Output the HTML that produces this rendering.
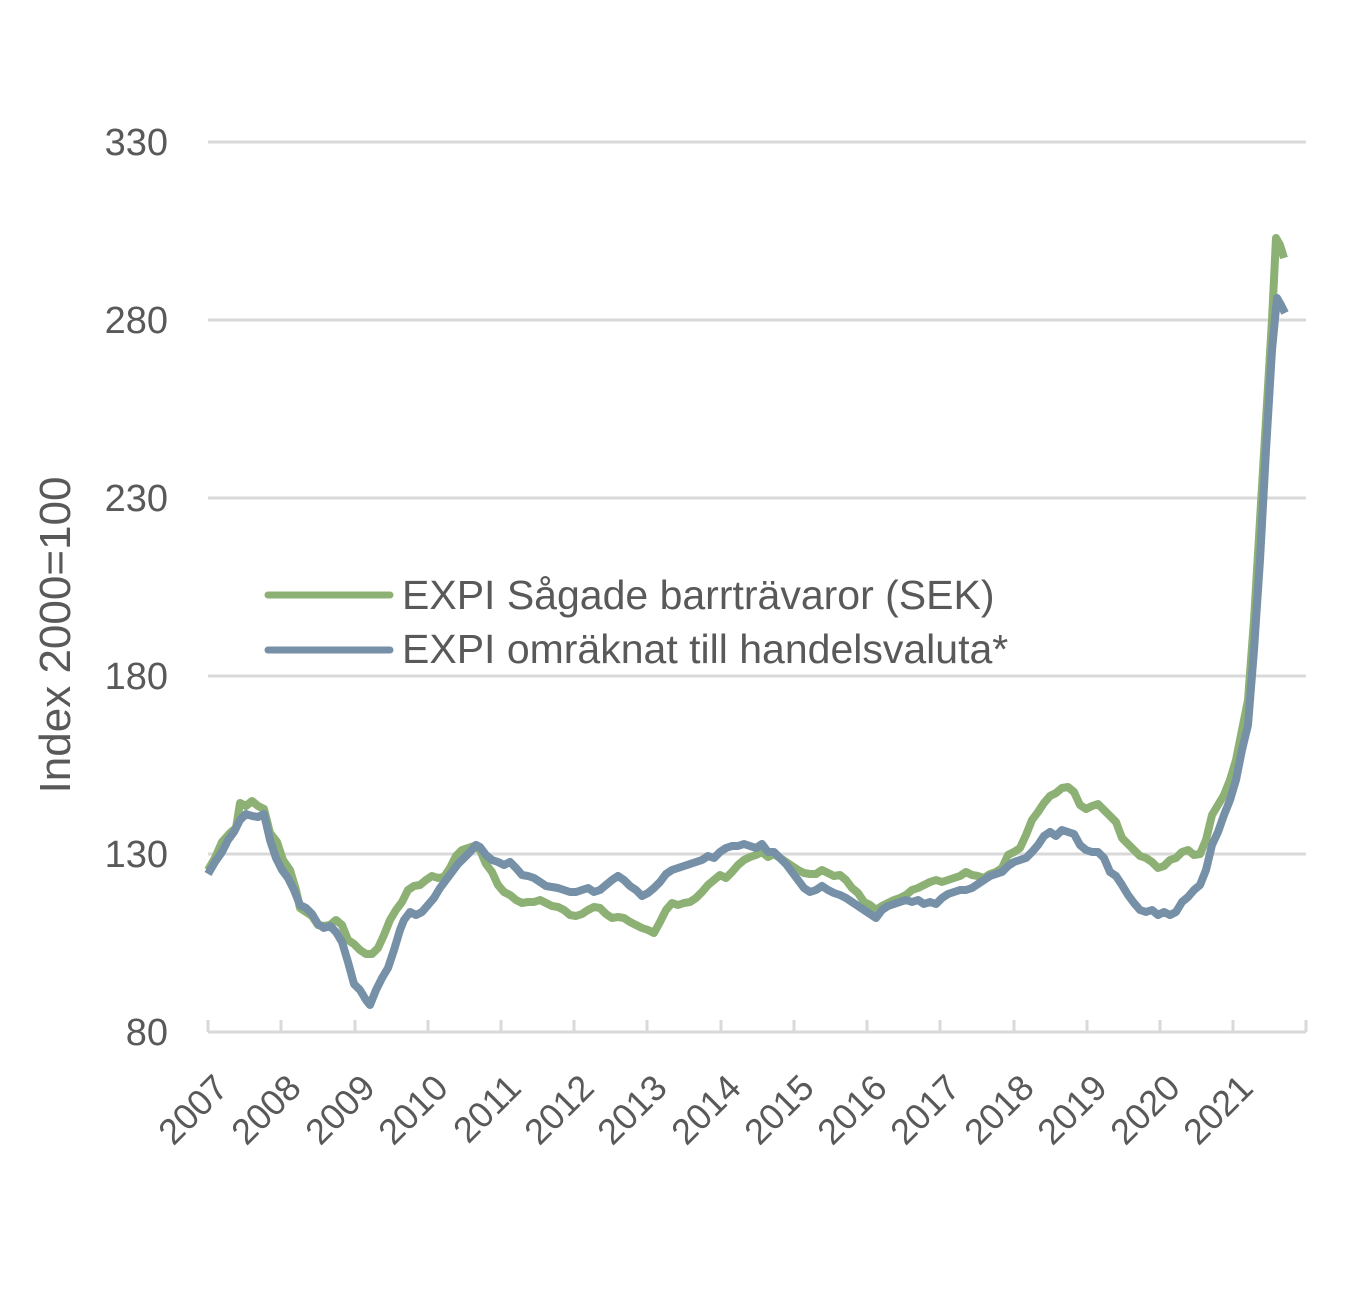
<!DOCTYPE html>
<html><head><meta charset="utf-8"><style>body{margin:0;background:#fff}</style></head><body>
<svg width="1360" height="1300" xmlns="http://www.w3.org/2000/svg" font-family="Liberation Sans, sans-serif" fill="#595959">
<g stroke="#d9d9d9" stroke-width="3">
<line x1="208" y1="142" x2="1306" y2="142"/><line x1="208" y1="320" x2="1306" y2="320"/>
<line x1="208" y1="498" x2="1306" y2="498"/><line x1="208" y1="676" x2="1306" y2="676"/>
<line x1="208" y1="854" x2="1306" y2="854"/><line x1="208" y1="1032" x2="1306" y2="1032"/>
<line x1="208" y1="1032" x2="208" y2="1020"/><line x1="281" y1="1032" x2="281" y2="1020"/><line x1="355" y1="1032" x2="355" y2="1020"/><line x1="428" y1="1032" x2="428" y2="1020"/><line x1="501" y1="1032" x2="501" y2="1020"/><line x1="574" y1="1032" x2="574" y2="1020"/><line x1="647" y1="1032" x2="647" y2="1020"/><line x1="721" y1="1032" x2="721" y2="1020"/><line x1="794" y1="1032" x2="794" y2="1020"/><line x1="867" y1="1032" x2="867" y2="1020"/><line x1="940" y1="1032" x2="940" y2="1020"/><line x1="1014" y1="1032" x2="1014" y2="1020"/><line x1="1087" y1="1032" x2="1087" y2="1020"/><line x1="1160" y1="1032" x2="1160" y2="1020"/><line x1="1233" y1="1032" x2="1233" y2="1020"/><line x1="1306" y1="1032" x2="1306" y2="1020"/>
</g>
<g font-size="38" text-anchor="end">
<text x="168" y="155">330</text><text x="168" y="333">280</text><text x="168" y="511">230</text><text x="168" y="689">180</text><text x="168" y="867">130</text><text x="168" y="1045">80</text>
</g>
<text transform="translate(70,635) rotate(-90)" font-size="44" text-anchor="middle">Index 2000=100</text>
<g font-size="36" text-anchor="end">
<text transform="translate(230,1090) rotate(-45)">2007</text><text transform="translate(303,1090) rotate(-45)">2008</text><text transform="translate(377,1090) rotate(-45)">2009</text><text transform="translate(450,1090) rotate(-45)">2010</text><text transform="translate(523,1090) rotate(-45)">2011</text><text transform="translate(596,1090) rotate(-45)">2012</text><text transform="translate(669,1090) rotate(-45)">2013</text><text transform="translate(743,1090) rotate(-45)">2014</text><text transform="translate(816,1090) rotate(-45)">2015</text><text transform="translate(889,1090) rotate(-45)">2016</text><text transform="translate(962,1090) rotate(-45)">2017</text><text transform="translate(1036,1090) rotate(-45)">2018</text><text transform="translate(1109,1090) rotate(-45)">2019</text><text transform="translate(1182,1090) rotate(-45)">2020</text><text transform="translate(1255,1090) rotate(-45)">2021</text>
</g>
<polyline fill="none" stroke="#8db174" stroke-width="8" stroke-linejoin="round" points="208,870 215,858 222,842 230,833 236,828 240,803 246,806 252,801 258,806 264,809 270,833 277,842 283,860 290,870 296,890 300,908 306,912 312,916 318,925 324,926 330,925 336,920 342,925 348,940 354,944 360,950 366,954 372,954 378,948 384,935 390,920 396,910 402,902 408,890 414,886 420,885 426,880 432,876 438,878 444,877 450,868 456,856 462,850 468,848 474,846 480,850 486,864 492,872 498,885 504,892 510,895 516,900 522,903 528,902 534,902 540,900 546,903 552,906 558,907 564,910 570,915 576,916 582,914 588,910 594,907 600,908 606,914 612,918 618,917 624,918 630,922 636,925 642,928 648,930 654,933 660,922 666,910 672,903 678,905 684,903 690,902 696,898 702,892 708,885 714,880 720,875 726,878 732,872 738,865 744,860 750,857 756,855 762,852 768,857 774,854 780,858 786,862 792,866 798,870 804,873 810,874 816,874 822,870 828,873 834,876 840,875 846,880 852,888 858,893 864,902 870,905 876,910 882,906 888,903 894,900 900,898 906,895 912,890 918,888 924,885 930,882 936,880 942,882 948,880 954,878 960,876 966,872 972,875 978,876 984,878 990,874 996,872 1002,868 1008,855 1014,852 1020,848 1026,835 1032,820 1038,812 1044,803 1050,796 1056,793 1062,788 1068,787 1074,792 1080,805 1086,809 1092,806 1098,804 1104,810 1110,816 1116,822 1122,838 1128,844 1134,850 1140,856 1146,858 1152,862 1158,868 1164,866 1170,860 1176,858 1182,852 1188,850 1194,855 1200,854 1206,840 1212,815 1218,805 1224,795 1230,780 1236,760 1242,730 1248,700 1254,620 1260,520 1266,420 1272,320 1276,238 1280,245 1284,258"/>
<polyline fill="none" stroke="#7590a7" stroke-width="8" stroke-linejoin="round" points="208,874 215,862 222,852 228,840 234,832 240,820 246,814 252,816 258,817 264,814 270,840 276,858 282,870 288,878 294,890 300,905 306,908 312,914 318,924 324,928 330,926 336,932 342,942 348,962 354,984 360,990 366,1000 370,1005 376,990 382,978 388,968 394,950 400,930 404,920 410,912 416,915 422,912 428,905 434,898 440,888 446,880 452,872 458,864 464,858 470,852 476,845 480,847 486,855 492,860 498,862 504,865 510,862 516,868 522,875 528,876 534,878 540,882 546,886 552,887 558,888 564,890 570,892 576,892 582,890 588,888 594,892 600,890 606,885 612,880 618,876 624,880 630,886 636,890 642,896 648,893 654,888 660,882 666,874 672,870 678,868 684,866 690,864 696,862 702,860 708,856 714,858 720,852 726,848 732,846 738,846 744,844 750,846 756,848 762,844 768,852 774,852 780,858 786,864 792,872 798,880 804,888 810,892 816,890 822,886 828,890 834,893 840,895 846,898 852,902 858,906 864,910 870,914 876,918 882,910 888,906 894,904 900,902 906,900 912,902 918,900 924,904 930,902 936,904 942,898 948,894 954,892 960,890 966,890 972,888 978,884 984,880 990,876 996,874 1002,872 1008,866 1014,862 1020,860 1026,858 1032,852 1038,845 1044,836 1050,832 1056,836 1062,830 1068,832 1074,834 1080,845 1086,850 1092,852 1098,852 1104,858 1110,872 1116,876 1122,885 1128,895 1134,903 1140,910 1146,912 1152,910 1158,915 1164,912 1170,915 1176,912 1182,902 1188,897 1194,890 1200,885 1206,870 1212,845 1218,832 1224,815 1230,800 1236,780 1242,750 1248,725 1254,650 1260,560 1266,450 1272,350 1277,298 1281,305 1285,313"/>
<line x1="268" y1="595" x2="390" y2="595" stroke="#8db174" stroke-width="7" stroke-linecap="round"/>
<line x1="268" y1="650" x2="390" y2="650" stroke="#7590a7" stroke-width="7" stroke-linecap="round"/>
<g font-size="41"><text x="402" y="609">EXPI Sågade barrträvaror (SEK)</text><text x="402" y="663">EXPI omräknat till handelsvaluta*</text></g>
</svg>
</body></html>
